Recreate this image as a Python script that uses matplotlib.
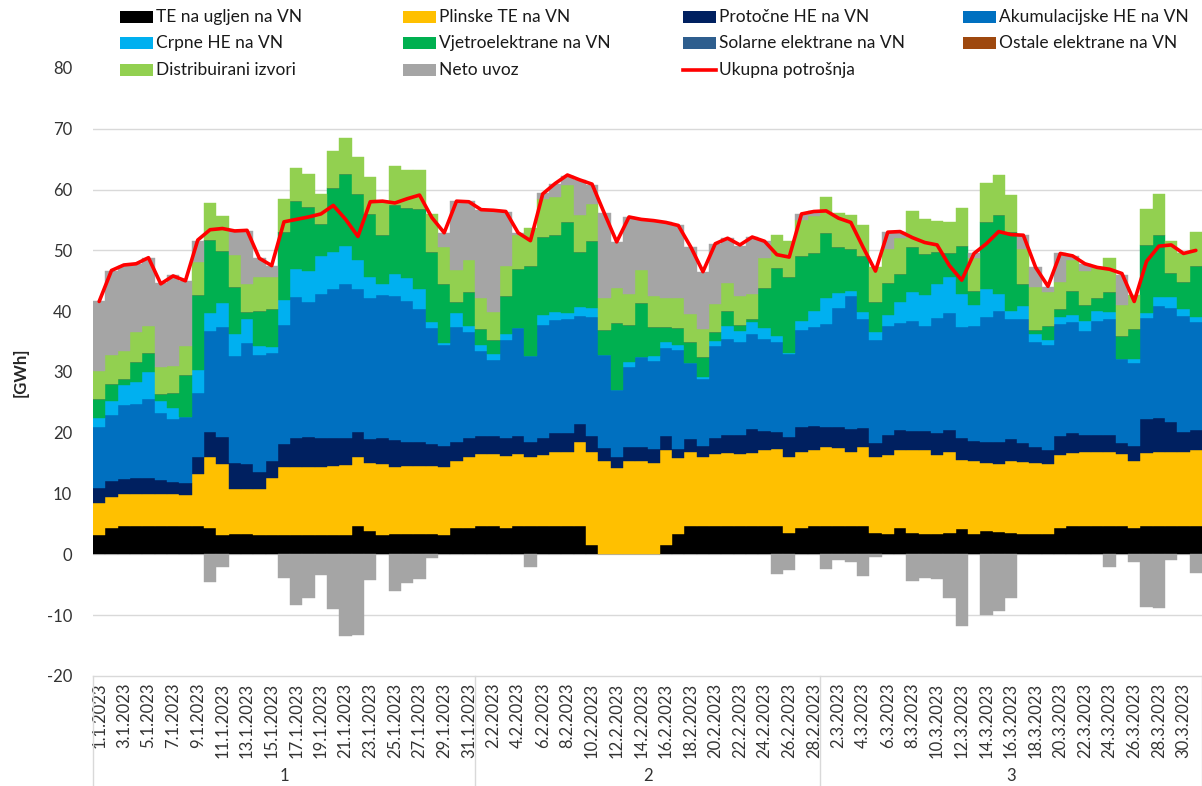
import numpy as np
import pandas as pd
import matplotlib
matplotlib.use("Agg")
import matplotlib.pyplot as plt
from matplotlib.patches import Rectangle
from matplotlib.lines import Line2D
import matplotlib.transforms as mtransforms

plt.rcParams['font.family'] = ['Lato', 'DejaVu Sans']
plt.rcParams['axes.unicode_minus'] = False

# daily values, 1.1.2023 - 31.3.2023, GWh
dates = pd.date_range('2023-01-01', '2023-03-31', freq='D')

te_ugljen = [3.2, 4.3, 4.7, 4.6, 4.6, 4.6, 4.6, 4.6, 4.6, 4.4,
             3.2, 3.4, 3.4, 3.2, 3.2, 3.2, 3.2, 3.2, 3.2, 3.2,
             3.2, 4.6, 3.8, 3.2, 3.4, 3.4, 3.4, 3.3, 3.2, 4.3,
             4.4, 4.6, 4.6, 4.4, 4.6, 4.6, 4.6, 4.6, 4.6, 4.6,
             1.5, 0.0, 0.0, 0.0, 0.0, 0.0, 1.6, 3.4, 4.6, 4.6,
             4.6, 4.7, 4.6, 4.6, 4.6, 4.6, 3.6, 4.3, 4.6, 4.6,
             4.6, 4.6, 4.6, 3.5, 3.4, 4.3, 3.5, 3.4, 3.4, 3.6,
             4.2, 3.4, 3.8, 3.7, 3.5, 3.4, 3.4, 3.4, 4.3, 4.6,
             4.6, 4.6, 4.6, 4.6, 4.4, 4.6, 4.6, 4.6, 4.6, 4.6]
plinske_te = [5.3, 5.2, 5.2, 5.3, 5.3, 5.3, 5.3, 5.2, 8.6, 11.7,
              11.6, 7.4, 7.4, 7.6, 9.3, 11.1, 11.2, 11.2, 11.1, 11.3,
              11.5, 11.5, 11.2, 11.6, 11.0, 11.1, 11.1, 11.2, 11.2, 11.0,
              11.6, 11.9, 11.9, 11.8, 11.9, 11.5, 11.8, 12.2, 12.3, 13.9,
              15.3, 15.4, 14.2, 15.3, 15.4, 15.1, 15.5, 12.4, 12.2, 11.5,
              11.9, 11.9, 11.9, 12.0, 12.5, 12.8, 12.5, 12.5, 12.5, 13.0,
              12.9, 12.2, 13.0, 12.5, 12.9, 12.9, 13.6, 13.7, 13.0, 13.3,
              11.4, 11.9, 11.3, 11.1, 11.8, 11.8, 11.6, 11.4, 12.0, 12.0,
              12.2, 12.2, 12.3, 11.9, 10.9, 12.0, 12.2, 12.3, 12.3, 12.6]
protocne_he = [2.5, 2.6, 2.5, 2.6, 2.7, 2.3, 2.0, 2.0, 2.8, 4.1,
               4.5, 4.2, 4.0, 2.7, 2.8, 3.8, 4.7, 4.9, 4.8, 4.6,
               4.4, 4.0, 3.9, 4.3, 4.4, 4.0, 4.0, 3.7, 3.5, 3.2,
               3.2, 2.9, 2.9, 2.9, 2.9, 2.4, 2.8, 3.2, 3.1, 2.9,
               2.7, 2.1, 1.8, 2.3, 2.2, 2.3, 2.3, 1.6, 2.1, 1.8,
               2.6, 3.0, 3.2, 4.0, 3.2, 2.8, 3.2, 4.1, 4.0, 3.4,
               3.4, 3.8, 3.2, 2.4, 3.3, 3.3, 3.2, 3.2, 3.6, 3.6,
               3.5, 3.3, 3.4, 3.7, 3.6, 3.2, 2.6, 2.3, 3.1, 3.3,
               2.9, 2.8, 2.8, 1.9, 2.5, 5.6, 5.6, 4.9, 3.2, 3.3]
akumulacijske_he = [9.9, 10.8, 12.2, 12.3, 13.0, 11.0, 10.3, 10.8, 10.6, 16.6,
                    18.1, 17.6, 20.0, 19.3, 17.9, 19.7, 23.3, 22.2, 23.8, 24.5,
                    25.4, 23.6, 23.3, 23.5, 23.7, 23.1, 21.9, 19.0, 16.6, 18.9,
                    17.3, 14.1, 12.5, 16.2, 17.8, 14.1, 18.6, 18.5, 18.7, 17.8,
                    19.5, 15.3, 11.1, 13.3, 14.8, 14.4, 14.5, 16.2, 12.6, 10.9,
                    15.1, 15.8, 15.2, 15.6, 15.1, 14.7, 13.6, 16.0, 16.3, 16.9,
                    19.7, 21.9, 17.9, 16.8, 17.9, 17.6, 18.1, 17.3, 18.8, 19.2,
                    18.3, 19.0, 20.6, 21.6, 19.8, 20.3, 17.4, 17.4, 18.5, 18.3,
                    17.1, 18.8, 19.0, 13.7, 13.7, 16.7, 18.4, 18.8, 19.1, 17.7]
crpne_he = [1.5, 2.3, 3.3, 3.6, 4.4, 2.1, 1.8, 0.0, 3.8, 2.9,
            4.0, 3.7, 3.9, 1.4, 0.9, 4.1, 4.5, 5.1, 6.2, 6.2,
            6.2, 4.8, 3.4, 1.8, 3.7, 3.9, 3.3, 1.0, 0.3, 2.3,
            1.0, 1.0, 1.0, 1.0, 0.0, 0.0, 1.6, 1.4, 1.0, 1.5,
            1.6, 0.0, 0.0, 0.7, 0.0, 0.8, 1.0, 0.8, 0.0, 0.3,
            0.9, 2.1, 1.9, 2.0, 1.8, 1.0, 0.2, 1.5, 2.6, 4.3,
            2.4, 0.9, 1.1, 1.4, 1.9, 3.4, 4.7, 5.0, 5.7, 5.9,
            5.5, 3.4, 4.6, 2.7, 1.3, 2.1, 1.2, 0.7, 1.2, 1.2,
            1.6, 1.6, 1.2, 0.0, 0.6, 0.8, 1.6, 1.8, 1.1, 0.9]
vjetroelektrane = [3.1, 2.9, 1.0, 3.3, 3.1, 1.0, 2.5, 6.9, 12.2, 12.0,
                   8.5, 7.6, 1.1, 5.8, 6.3, 11.2, 11.3, 10.6, 5.3, 10.5,
                   11.8, 10.8, 10.4, 8.2, 11.2, 11.4, 13.1, 11.5, 9.6, 1.8,
                   5.7, 2.6, 2.3, 6.2, 9.7, 14.8, 12.8, 12.7, 14.9, 9.1,
                   10.9, 4.1, 11.0, 6.2, 8.9, 4.8, 2.5, 2.8, 3.5, 3.3,
                   1.4, 2.6, 1.0, 0.5, 6.6, 11.2, 12.6, 10.6, 9.5, 10.7,
                   7.5, 6.9, 9.3, 4.9, 5.3, 4.7, 7.5, 6.8, 5.2, 4.0,
                   7.8, 2.4, 11.0, 13.1, 13.0, 3.6, 0.7, 2.4, 1.2, 4.0,
                   2.6, 2.1, 3.3, 3.8, 5.0, 11.2, 10.1, 3.9, 4.5, 8.3]
solarne = [0.0] * 90
ostale = [0.0] * 90
distribuirani = [4.7, 4.7, 4.6, 4.9, 4.4, 4.6, 4.5, 4.7, 5.5, 6.1,
                 5.7, 5.4, 4.7, 5.6, 5.2, 5.4, 5.3, 5.4, 4.9, 6.1,
                 6.0, 6.1, 6.1, 5.4, 6.4, 6.3, 6.4, 6.3, 6.1, 5.3,
                 5.3, 5.0, 4.7, 5.0, 5.6, 6.3, 6.2, 6.2, 6.2, 6.1,
                 6.1, 5.2, 5.7, 5.1, 5.5, 5.1, 4.7, 4.9, 4.5, 4.7,
                 4.7, 4.6, 4.7, 4.1, 4.9, 5.4, 5.8, 6.0, 6.1, 5.9,
                 5.7, 5.6, 5.0, 5.7, 5.6, 5.8, 5.8, 5.7, 5.2, 5.1,
                 6.2, 5.4, 6.4, 6.5, 6.1, 5.9, 7.0, 5.6, 4.5, 5.0,
                 5.6, 5.0, 5.6, 5.1, 5.5, 5.9, 6.7, 5.3, 4.7, 5.7]
neto_uvoz = [11.4, 13.8, 14.0, 11.2, 11.3, 13.7, 14.9, 10.8, 3.5, -4.6,
             -2.0, 3.9, 8.7, 3.2, 1.8, -3.8, -8.4, -7.1, -3.4, -9.0,
             -13.5, -13.2, -4.2, 0.1, -6.0, -4.7, -4.1, -0.6, 2.4, 11.3,
             9.6, 14.5, 16.7, 8.8, 0.4, -2.1, 1.0, 2.1, 1.5, 5.6,
             3.2, 14.1, 7.6, 12.6, 8.3, 12.4, 12.6, 12.1, 11.1, 9.4,
             9.9, 7.4, 8.3, 9.4, 2.8, -3.2, -2.6, 1.0, 0.8, -2.4,
             -1.0, -1.3, -3.6, -0.5, 2.8, 1.1, -4.3, -3.8, -4.0, -7.2,
             -11.8, 0.7, -10.0, -9.3, -7.1, 2.2, 3.3, 0.8, 4.8, 0.6,
             1.2, 0.1, -2.1, 5.0, -1.3, -8.7, -8.8, -0.9, 0.0, -3.1]
ukupna_potrosnja = [41.6, 46.7, 47.6, 47.8, 48.8, 44.5, 45.8, 45.0, 51.7, 53.4,
                    53.6, 53.2, 53.3, 48.7, 47.5, 54.7, 55.1, 55.5, 56.0, 57.4,
                    55.1, 52.3, 58.0, 58.1, 57.8, 58.5, 59.1, 55.4, 52.9, 58.1,
                    58.0, 56.7, 56.6, 56.4, 52.9, 51.6, 59.3, 61.0, 62.4, 61.6,
                    60.9, 56.1, 51.4, 55.5, 55.1, 54.9, 54.6, 54.1, 50.6, 46.5,
                    51.1, 52.0, 50.9, 52.2, 51.5, 49.3, 48.9, 56.0, 56.4, 56.5,
                    55.3, 54.6, 50.5, 46.6, 53.0, 53.1, 52.1, 51.3, 50.9, 47.5,
                    45.1, 49.5, 51.1, 53.1, 52.6, 52.5, 47.2, 44.1, 49.5, 49.1,
                    47.8, 47.2, 46.9, 46.2, 41.6, 48.2, 50.7, 50.9, 49.5, 50.0]

series = [
    ('TE na ugljen na VN', te_ugljen, '#000000'),
    ('Plinske TE na VN', plinske_te, '#FFC000'),
    ('Protočne HE na VN', protocne_he, '#002060'),
    ('Akumulacijske HE na VN', akumulacijske_he, '#0070C0'),
    ('Crpne HE na VN', crpne_he, '#00B0F0'),
    ('Vjetroelektrane na VN', vjetroelektrane, '#00B050'),
    ('Solarne elektrane na VN', solarne, '#2E5E8E'),
    ('Ostale elektrane na VN', ostale, '#9E480E'),
    ('Distribuirani izvori', distribuirani, '#92D050'),
    ('Neto uvoz', neto_uvoz, '#A5A5A5'),
]
line_label = 'Ukupna potrošnja'
line_color = '#FF0000'

W, H = 1202, 786
fig = plt.figure(figsize=(W / 100, H / 100), dpi=100)
ax = fig.add_axes([93 / W, 110 / H, 1109 / W, 608 / H])

x = np.arange(len(dates))
pos = np.zeros(len(x))
neg = np.zeros(len(x))
for name, vals, col in series:
    v = np.asarray(vals, dtype=float)
    bottom = np.where(v >= 0, pos, neg)
    ax.bar(x, v, width=1.0, bottom=bottom, color=col, edgecolor=col,
           linewidth=0.3, zorder=2)
    pos += np.clip(v, 0, None)
    neg += np.clip(v, None, 0)

ax.plot(x, ukupna_potrosnja, color=line_color, lw=2.6,
        solid_joinstyle='round', solid_capstyle='round', zorder=3)

ax.set_xlim(-0.5, len(x) - 0.5)
ax.set_ylim(-20, 80)
ax.set_yticks(np.arange(-20, 81, 10))
for yv in range(-10, 80, 10):
    ax.axhline(yv, color='#D9D9D9', lw=1.0, zorder=1)

for s in ['left', 'right', 'top']:
    ax.spines[s].set_visible(False)
ax.spines['bottom'].set_color('#D9D9D9')
ax.spines['bottom'].set_linewidth(1.0)

tick_color = '#333333'
ax.tick_params(axis='y', length=0, labelsize=12, labelcolor=tick_color, pad=15)
ax.set_xticks(x[::2])
ax.set_xticklabels([f'{d.day}.{d.month}.{d.year}' for d in dates[::2]],
                   rotation=90, fontsize=12, color=tick_color)
ax.tick_params(axis='x', length=0, pad=5)

ax.set_ylabel('[GWh]', fontsize=12, fontweight='bold', color='#262626',
              labelpad=13)

# month grouping below the date labels
trans = mtransforms.blended_transform_factory(ax.transData, ax.transAxes)
months = dates.month.values
bounds = [-0.5]
for i in range(1, len(months)):
    if months[i] != months[i - 1]:
        bounds.append(i - 0.5)
bounds.append(len(months) - 0.5)
for b in bounds:
    ax.plot([b, b], [0, -0.185], transform=trans, color='#D9D9D9', lw=1.0,
            clip_on=False)
for k in range(len(bounds) - 1):
    mid = (bounds[k] + bounds[k + 1]) / 2
    ax.text(mid, -0.165, str(months[int(bounds[k] + 0.5)]), transform=trans,
            ha='center', va='center', fontsize=12, color=tick_color)

# legend, laid out like the spreadsheet one (row by row, 4 columns)
col_x = [120, 403, 683, 963]
row_y = [17, 43, 70]
entries = [(n, c, 'patch') for n, _, c in series] + [(line_label, line_color, 'line')]
for k, (name, col, kind) in enumerate(entries):
    px = col_x[k % 4] / W
    py = 1 - row_y[k // 4] / H
    if kind == 'patch':
        fig.patches.append(Rectangle((px, py - 6 / H), 33 / W, 12 / H,
                                     transform=fig.transFigure,
                                     facecolor=col, edgecolor='none'))
    else:
        fig.lines.append(Line2D([px, px + 33 / W], [py, py],
                                transform=fig.transFigure, color=col, lw=2.6))
    fig.text(px + 36 / W, py, name, ha='left', va='center', fontsize=12.5,
             color='#1a1a1a')

fig.savefig('out.png', dpi=100)
